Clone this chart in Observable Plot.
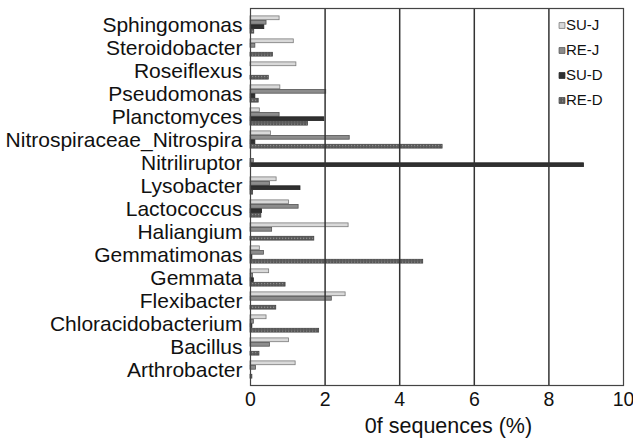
<!DOCTYPE html>
<html>
<head>
<meta charset="utf-8">
<script src="https://cdn.jsdelivr.net/npm/d3@7"></script>
<script src="https://cdn.jsdelivr.net/npm/@observablehq/plot@0.6"></script>
<style>
  html, body { margin: 0; padding: 0; background: #fff; }
  #chart svg { font-family: "Liberation Sans", Arial, sans-serif; }
  #chart [aria-label^="x-axis"] text { font-size: 19.5px; }
  #chart [aria-label^="y-axis"] text { font-size: 21px; }
</style>
</head>
<body>
<div id="chart"></div>
<script>
const categories = ["Sphingomonas","Steroidobacter","Roseiflexus","Pseudomonas","Planctomyces",
  "Nitrospiraceae_Nitrospira","Nitriliruptor","Lysobacter","Lactococcus","Haliangium",
  "Gemmatimonas","Gemmata","Flexibacter","Chloracidobacterium","Bacillus","Arthrobacter"];
const seriesNames = ["SU-J","RE-J","SU-D","RE-D"];
const suJ = [0.78,1.16,1.23,0.80,0.25,0.55,0.00,0.70,1.03,2.63,0.25,0.50,2.55,0.43,1.03,1.21];
const reJ = [0.43,0.13,0.00,2.03,0.78,2.66,0.09,0.52,1.29,0.58,0.36,0.07,2.18,0.09,0.52,0.15];
const suD = [0.37,0.00,0.00,0.13,1.98,0.13,8.94,1.34,0.31,0.00,0.05,0.09,0.00,0.05,0.00,0.00];
const reD = [0.10,0.60,0.49,0.22,1.54,5.15,0.00,0.07,0.29,1.71,4.63,0.94,0.69,1.84,0.24,0.05];
const xTicks = [0,2,4,6,8,10];
const gridTicks = [2,4,6,8];
const axisTitle = "0f sequences (%)";

const seriesValues = [suJ, reJ, suD, reD];
const fills = ["#d9d9d9","#8c8c8c","#303030","url(#redPattern)"];
const strokes = ["#7a7a7a","#555","#222","#444"];
const offsets = [-6.7,-2.2,2.2,6.7];

const marks = [];
seriesNames.forEach((s, i) => {
  const rows = categories.map((c, j) => ({category: c, series: s, value: seriesValues[i][j]}))
    .filter(d => d.value > 0);
  marks.push(Plot.barX(rows, {
    x: "value", y: "category", fill: fills[i], stroke: strokes[i], strokeWidth: 0.8,
    insetTop: 9.6, insetBottom: 9.6, dy: offsets[i]
  }));
});
marks.push(Plot.ruleX(gridTicks, {stroke: "#333", strokeWidth: 1.5}));
marks.push(Plot.frame({stroke: "#444", strokeWidth: 1.2}));
seriesNames.forEach((s, i) => {
  marks.push(Plot.dot([s], {frameAnchor: "top-right", dx: -61.5, dy: 17 + 25 * i,
    symbol: "square", r: 3.3, fill: fills[i], stroke: strokes[i], strokeWidth: 0.8}));
  marks.push(Plot.text([s], {text: d => d, frameAnchor: "top-right", dx: -57.5, dy: 17 + 25 * i,
    textAnchor: "start", lineAnchor: "middle", fontSize: 15, fill: "#111"}));
});
marks.push(Plot.text([axisTitle], {text: d => d, frameAnchor: "bottom", dx: 11.5, dy: 41,
  lineAnchor: "middle", fontSize: 21.5, fill: "#111"}));

const chart = Plot.plot({
  width: 633,
  height: 444,
  marginLeft: 250,
  marginRight: 10,
  marginTop: 8,
  marginBottom: 59,
  style: {fontFamily: "Liberation Sans, Arial, sans-serif", fontSize: "20px", color: "#111", background: "#fff"},
  x: {domain: [0, 10], ticks: xTicks, tickSize: 0, tickPadding: 7, label: null},
  y: {domain: categories, padding: 0, tickSize: 0, tickPadding: 8, label: null},
  marks
});

// pattern for RE-D
const svgNS = "http://www.w3.org/2000/svg";
const defs = document.createElementNS(svgNS, "defs");
defs.innerHTML = '<pattern id="redPattern" width="3" height="3" patternUnits="userSpaceOnUse">' +
  '<rect width="3" height="3" fill="#5a5a5a"></rect>' +
  '<rect x="0" y="0" width="1.2" height="1.2" fill="#9a9a9a"></rect></pattern>';
const svgEl = chart.tagName.toLowerCase() === "svg" ? chart : chart.querySelector("svg");
svgEl.insertBefore(defs, svgEl.firstChild);
document.getElementById("chart").appendChild(chart);
</script>
</body>
</html>
